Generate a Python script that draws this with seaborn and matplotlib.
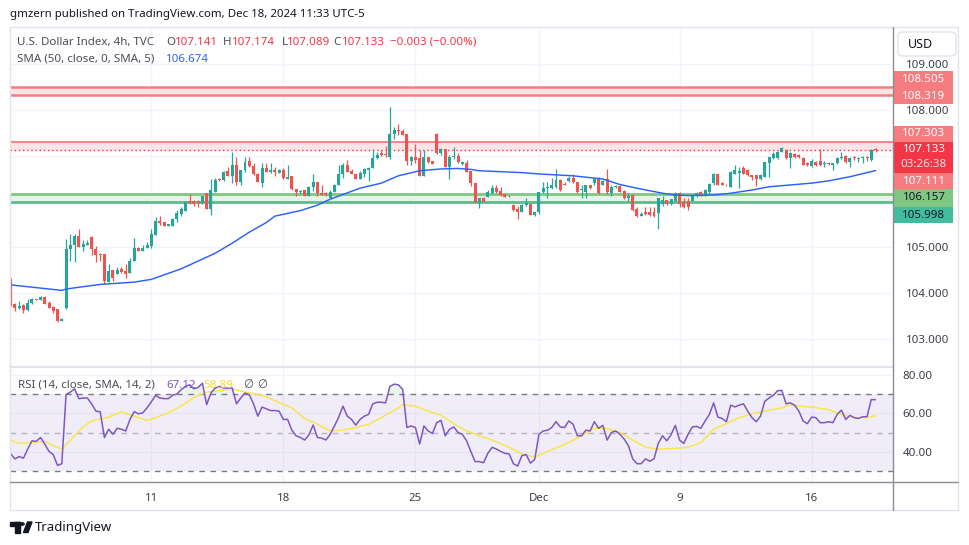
import matplotlib
matplotlib.use("Agg")
import matplotlib.pyplot as plt
from matplotlib.lines import Line2D
from matplotlib.patches import Rectangle, FancyBboxPatch, Circle, Polygon
import numpy as np
import pandas as pd
import seaborn as sns

# ---- data (DXY, 4h bars, Nov 5 -> Dec 18 2024) ----
opens = [104.31, 103.76, 103.67, 103.74, 103.64, 103.78, 103.87, 103.86, 103.92, 103.78,
         103.70, 103.65, 103.40, 103.67, 104.96, 105.05, 105.25, 105.01, 105.06, 105.23,
         104.96, 104.85, 104.85, 104.25, 104.50, 104.42, 104.52, 104.49, 104.43, 104.70,
         104.99, 104.92, 104.98, 105.02, 105.27, 105.58, 105.55, 105.47, 105.47, 105.62,
         105.73, 105.80, 106.01, 106.01, 106.01, 105.96, 106.18, 105.84, 106.21, 106.50,
         106.47, 106.67, 106.56, 106.79, 106.43, 106.69, 106.89, 106.78, 106.61, 106.41,
         106.74, 106.65, 106.69, 106.63, 106.69, 106.50, 106.56, 106.27, 106.20, 106.25,
         106.13, 106.31, 106.43, 106.19, 106.19, 106.08, 106.21, 106.35, 106.60, 106.80,
         106.67, 106.59, 106.49, 106.61, 106.69, 106.74, 106.94, 107.05, 107.03, 106.98,
         107.47, 107.56, 107.54, 107.47, 106.88, 106.98, 106.94, 106.56, 106.96, 106.89,
         107.47, 107.05, 107.14, 106.76, 106.96, 106.99, 106.82, 106.85, 106.66, 106.40,
         105.96, 106.08, 106.10, 106.18, 106.30, 106.23, 106.16, 106.11, 105.92, 105.83,
         105.78, 105.92, 105.95, 105.71, 105.76, 106.20, 106.29, 106.29, 106.32, 106.47,
         106.39, 106.45, 106.52, 106.42, 106.24, 106.20, 106.36, 106.40, 106.51, 106.37,
         106.49, 106.19, 106.31, 106.34, 106.23, 106.07, 106.14, 105.84, 105.69, 105.76,
         105.76, 105.76, 105.74, 105.94, 106.03, 105.94, 106.01, 106.18, 105.99, 106.01,
         106.01, 106.13, 106.20, 106.14, 106.21, 106.40, 106.59, 106.41, 106.37, 106.32,
         106.61, 106.62, 106.72, 106.69, 106.58, 106.58, 106.48, 106.54, 106.85, 106.94,
         106.94, 107.09, 107.12, 106.94, 107.04, 107.01, 106.94, 106.83, 106.78, 106.87,
         106.88, 106.82, 106.85, 106.80, 106.83, 106.94, 106.99, 106.87, 106.98, 106.92,
         106.94, 106.98, 106.91, 107.141]
highs = [104.33, 103.78, 103.83, 103.76, 103.87, 103.90, 103.875, 103.94, 103.94, 103.83,
         103.72, 103.66, 103.45, 105.18, 105.29, 105.28, 105.41, 105.16, 105.16, 105.25,
         105.03, 104.88, 104.85, 104.63, 104.50, 104.56, 104.56, 104.64, 104.77, 105.21,
         105.01, 105.06, 105.12, 105.40, 105.67, 105.68, 105.56, 105.51, 105.64, 105.81,
         105.87, 106.01, 106.17, 106.03, 106.03, 106.12, 106.19, 106.50, 106.51, 106.51,
         106.67, 106.76, 107.07, 106.96, 106.69, 106.98, 106.98, 106.83, 106.63, 106.83,
         106.83, 106.83, 106.76, 106.70, 106.72, 106.80, 106.56, 106.27, 106.25, 106.25,
         106.34, 106.61, 106.43, 106.37, 106.20, 106.24, 106.38, 106.80, 106.83, 106.91,
         106.70, 106.60, 106.67, 106.72, 106.76, 107.14, 107.09, 107.12, 107.20, 108.07,
         107.63, 107.69, 107.58, 107.47, 107.00, 107.25, 107.12, 107.12, 106.98, 106.89,
         107.49, 107.16, 107.14, 107.01, 107.18, 107.05, 106.89, 106.90, 106.67, 106.41,
         106.08, 106.10, 106.25, 106.36, 106.36, 106.31, 106.17, 106.15, 105.94, 105.90,
         105.94, 106.07, 105.96, 105.78, 106.20, 106.42, 106.43, 106.51, 106.71, 106.49,
         106.42, 106.56, 106.59, 106.43, 106.37, 106.37, 106.36, 106.52, 106.54, 106.47,
         106.71, 106.37, 106.35, 106.36, 106.24, 106.18, 106.16, 105.87, 105.78, 105.87,
         105.87, 105.89, 106.08, 106.13, 106.03, 106.06, 106.20, 106.20, 106.07, 106.07,
         106.14, 106.20, 106.22, 106.27, 106.40, 106.63, 106.61, 106.43, 106.38, 106.67,
         106.80, 106.76, 106.77, 106.70, 106.58, 106.58, 106.60, 106.87, 106.98, 107.07,
         107.11, 107.18, 107.15, 107.07, 107.05, 107.03, 106.96, 106.86, 106.92, 106.88,
         107.14, 106.89, 106.87, 106.85, 106.98, 107.09, 107.01, 106.96, 106.99, 106.96,
         106.99, 106.99, 107.14, 107.174]
lows = [103.72, 103.62, 103.65, 103.57, 103.60, 103.77, 103.85, 103.85, 103.76, 103.68,
        103.56, 103.36, 103.39, 103.66, 104.70, 104.69, 105.00, 104.91, 105.05, 104.83,
        104.69, 104.70, 104.19, 104.24, 104.26, 104.42, 104.45, 104.32, 104.43, 104.70,
        104.91, 104.92, 104.98, 104.99, 105.27, 105.49, 105.46, 105.46, 105.46, 105.56,
        105.69, 105.79, 105.95, 105.90, 105.89, 105.95, 105.83, 105.70, 106.20, 106.45,
        106.45, 106.56, 106.40, 106.36, 106.36, 106.65, 106.76, 106.58, 106.42, 106.32,
        106.64, 106.62, 106.55, 106.62, 106.49, 106.50, 106.25, 106.12, 106.17, 106.11,
        106.12, 106.22, 106.12, 106.14, 106.12, 106.07, 106.20, 106.35, 106.51, 106.64,
        106.60, 106.48, 106.49, 106.53, 106.45, 106.72, 106.92, 107.00, 106.98, 106.92,
        107.36, 107.45, 107.45, 106.80, 106.80, 106.83, 106.56, 106.56, 106.83, 106.81,
        107.04, 107.01, 106.75, 106.48, 106.92, 106.85, 106.80, 106.64, 106.34, 105.96,
        105.85, 105.98, 106.09, 106.16, 106.18, 106.12, 106.09, 106.10, 105.79, 105.61,
        105.76, 105.91, 105.71, 105.68, 105.73, 106.18, 106.08, 106.27, 106.29, 106.23,
        106.36, 106.43, 106.40, 106.18, 106.08, 106.08, 106.27, 106.37, 106.16, 106.36,
        106.16, 106.11, 106.30, 106.20, 106.05, 106.01, 105.79, 105.67, 105.68, 105.71,
        105.68, 105.67, 105.40, 105.91, 105.93, 105.93, 106.00, 105.89, 105.85, 105.81,
        106.00, 106.10, 106.12, 106.12, 106.19, 106.36, 106.35, 106.35, 106.33, 106.31,
        106.60, 106.29, 106.60, 106.56, 106.47, 106.34, 106.46, 106.53, 106.54, 106.92,
        106.92, 107.07, 106.92, 106.72, 106.94, 106.94, 106.79, 106.78, 106.76, 106.78,
        106.78, 106.76, 106.80, 106.69, 106.82, 106.92, 106.85, 106.76, 106.91, 106.87,
        106.85, 106.89, 106.89, 107.089]
closes = [103.74, 103.67, 103.73, 103.64, 103.78, 103.87, 103.86, 103.91, 103.77, 103.68,
          103.61, 103.40, 103.44, 104.96, 105.05, 105.25, 105.01, 105.07, 105.10, 104.96,
          104.83, 104.83, 104.26, 104.49, 104.34, 104.50, 104.47, 104.41, 104.70, 104.99,
          104.92, 104.99, 105.05, 105.29, 105.58, 105.52, 105.47, 105.50, 105.62, 105.74,
          105.84, 105.98, 105.96, 105.94, 105.96, 106.12, 105.84, 106.24, 106.47, 106.46,
          106.64, 106.56, 106.79, 106.43, 106.69, 106.87, 106.78, 106.60, 106.43, 106.74,
          106.65, 106.69, 106.65, 106.69, 106.51, 106.54, 106.27, 106.20, 106.23, 106.12,
          106.32, 106.42, 106.18, 106.14, 106.14, 106.21, 106.36, 106.60, 106.80, 106.65,
          106.61, 106.49, 106.63, 106.70, 106.74, 106.94, 107.01, 107.01, 107.01, 107.47,
          107.56, 107.54, 107.45, 106.88, 106.96, 106.91, 106.56, 106.96, 106.87, 106.81,
          107.05, 107.14, 106.76, 106.98, 106.99, 106.87, 106.87, 106.65, 106.40, 105.99,
          106.08, 105.99, 106.20, 106.30, 106.21, 106.14, 106.10, 106.13, 105.81, 105.76,
          105.92, 105.96, 105.71, 105.78, 106.20, 106.30, 106.31, 106.35, 106.47, 106.25,
          106.37, 106.52, 106.42, 106.20, 106.27, 106.36, 106.29, 106.49, 106.18, 106.45,
          106.20, 106.32, 106.34, 106.21, 106.07, 106.13, 105.81, 105.69, 105.72, 105.73,
          105.71, 105.69, 106.08, 106.03, 105.94, 106.05, 106.18, 105.94, 105.89, 105.89,
          106.13, 106.18, 106.14, 106.25, 106.38, 106.61, 106.36, 106.37, 106.35, 106.65,
          106.69, 106.67, 106.61, 106.58, 106.54, 106.48, 106.58, 106.87, 106.96, 107.04,
          107.09, 107.16, 106.94, 107.05, 106.96, 106.98, 106.80, 106.80, 106.89, 106.80,
          106.79, 106.85, 106.82, 106.83, 106.94, 106.98, 106.87, 106.94, 106.94, 106.94,
          106.98, 106.94, 107.12, 107.133]

# SMA(50) sampled along the bars
sma_bar = [0, 12, 13, 21, 29, 33, 40, 48, 52, 56, 60, 62, 68, 72, 75, 82, 87, 91, 96, 101,
           105, 108, 110, 115, 120, 124, 132, 139, 143, 148, 153, 156, 159, 165, 169, 174,
           178, 183, 188, 192, 197, 203]
sma_val = [104.18, 104.06, 104.09, 104.19, 104.24, 104.30, 104.53, 104.87, 105.09, 105.33,
           105.54, 105.68, 105.80, 105.92, 106.05, 106.29, 106.40, 106.56, 106.67, 106.71,
           106.72, 106.70, 106.67, 106.65, 106.63, 106.60, 106.56, 106.49, 106.37, 106.27,
           106.18, 106.14, 106.13, 106.14, 106.18, 106.25, 106.32, 106.36, 106.40, 106.45,
           106.54, 106.674]

# RSI(14) per bar
rsi_val = [39.0, 36.4, 37.6, 36.8, 41.5, 45.8, 45.5, 47.5, 44.1, 40.3,
           38.6, 33.0, 33.9, 69.8, 71.1, 72.8, 67.7, 68.0, 68.0, 65.0,
           61.2, 60.9, 47.5, 51.8, 49.2, 52.3, 51.8, 50.9, 56.9, 60.9,
           59.8, 60.3, 62.9, 66.0, 69.4, 68.0, 67.7, 67.7, 69.4, 70.1,
           72.3, 74.0, 74.9, 72.8, 73.5, 75.7, 64.6, 70.6, 73.2, 74.0,
           73.2, 73.2, 73.2, 65.0, 68.0, 70.6, 69.7, 65.0, 58.6, 63.3,
           62.4, 61.5, 61.5, 61.2, 56.9, 56.9, 51.3, 48.4, 47.5, 46.2,
           48.9, 54.0, 47.5, 47.2, 46.2, 49.2, 53.5, 58.1, 63.8, 58.6,
           56.9, 53.9, 56.9, 58.6, 59.5, 65.0, 65.8, 65.8, 65.5, 74.0,
           75.2, 74.9, 72.5, 52.7, 53.5, 52.7, 44.1, 53.5, 50.9, 49.6,
           55.2, 56.4, 48.4, 51.8, 53.0, 50.1, 49.2, 45.8, 40.3, 35.0,
           35.0, 34.4, 39.3, 42.4, 41.5, 40.3, 39.3, 39.0, 33.9, 32.7,
           38.1, 38.6, 34.2, 36.1, 49.2, 50.9, 51.3, 52.7, 55.7, 53.0,
           52.7, 56.1, 54.4, 48.4, 48.4, 51.3, 50.9, 55.7, 52.3, 53.8,
           46.2, 50.1, 50.9, 49.2, 46.7, 43.3, 36.4, 33.9, 33.9, 36.4,
           35.2, 36.4, 44.4, 48.4, 45.8, 48.9, 53.8, 46.2, 44.4, 49.2,
           53.0, 53.3, 52.3, 56.1, 59.5, 65.5, 58.1, 57.4, 55.7, 64.3,
           63.4, 64.3, 65.0, 61.2, 57.8, 55.7, 58.6, 66.3, 68.0, 69.4,
           71.8, 72.0, 65.0, 65.5, 64.3, 61.2, 56.1, 54.7, 58.1, 57.8,
           55.2, 55.2, 55.7, 55.2, 59.5, 61.7, 56.9, 59.0, 57.8, 57.4,
           58.3, 58.3, 67.2, 67.12]

# SMA(14) of RSI, sampled
rsima_bar = [0, 2, 5, 8, 10, 12, 15, 17, 19, 23, 26, 29, 32, 34, 37, 40, 43, 46, 49, 52,
             55, 59, 62, 66, 69, 72, 75, 78, 81, 84, 87, 91, 92, 95, 98, 101, 104, 107, 110,
             113, 117, 120, 123, 126, 130, 134, 137, 140, 143, 146, 149, 152, 156, 159, 162,
             165, 168, 171, 174, 177, 181, 183, 185, 188, 192, 195, 198, 201, 203]
rsima_val = [46.2, 44.4, 44.9, 45.5, 43.3, 41.5, 48.4, 53.0, 56.1, 58.1, 60.9, 58.6, 56.4,
             57.8, 60.3, 63.8, 68.4, 71.1, 71.8, 72.8, 71.1, 69.4, 66.7, 62.9, 57.4, 54.4,
             50.9, 51.3, 52.7, 54.4, 57.8, 62.9, 64.6, 63.8, 61.2, 59.1, 54.7, 50.9, 48.4,
             46.2, 42.4, 39.0, 37.3, 40.3, 43.8, 48.4, 52.3, 52.1, 50.1, 46.2, 42.4, 41.5,
             41.9, 42.4, 44.9, 51.8, 54.7, 57.8, 59.8, 61.2, 62.9, 64.6, 63.8, 63.3, 62.0,
             59.5, 57.8, 57.8, 58.89]

tick_bars = [33, 64, 95, 124, 157, 188]
tick_labels = ["11", "18", "25", "Dec", "9", "16"]

red_zone_hi = (108.319, 108.505)
red_zone_lo = (107.111, 107.303)
green_zone = (105.998, 106.157)
last_price = 107.133

UP, DOWN = "#26a69a", "#ef5350"
GRID = "#f0f3fa"
TXT = "#131722"

W, H = 970, 545


def fx(px):
    return px / W


def fy(py):
    return 1 - py / H


sns.set_theme(style="white")
plt.rcParams["font.family"] = ["Noto Sans", "DejaVu Sans"]

fig = plt.figure(figsize=(W / 100, H / 100), dpi=100)
ax_p = fig.add_axes([fx(10), fy(366), fx(893) - fx(10), fy(28) - fy(366)])
ax_r = fig.add_axes([fx(10), fy(482), fx(893) - fx(10), fy(368) - fy(482)])

df = pd.DataFrame({"open": opens, "high": highs, "low": lows, "close": closes})
df["bar"] = np.arange(len(df))
df["col"] = np.where(df["close"] >= df["open"], UP, DOWN)
body_lo = df[["open", "close"]].min(axis=1)
body_h = (df["close"] - df["open"]).abs().clip(lower=0.008)

# ---- price pane ----
for lo, hi in [red_zone_hi, red_zone_lo]:
    ax_p.axhspan(lo, hi, color="#fde4e6", lw=0, zorder=1)
ax_p.axhline(red_zone_hi[1], color="#f77c80", lw=1.8, zorder=2)
ax_p.axhline(red_zone_hi[0], color="#f77c80", lw=1.8, zorder=2)
ax_p.axhline(red_zone_lo[1], color="#f77c80", lw=1.3, zorder=2)
ax_p.axhspan(*green_zone, color="#e5f4e6", lw=0, zorder=1)
ax_p.axhline(green_zone[1], color="#81c784", lw=2.0, zorder=2)
ax_p.axhline(green_zone[0], color="#5dbb8c", lw=2.0, zorder=2)
ax_p.axhline(last_price, color="#f23645", lw=1.0, ls=(0, (1, 2)), zorder=2)

ax_p.vlines(df["bar"], df["low"], df["high"], colors=df["col"], lw=0.9, zorder=3)
ax_p.bar(df["bar"], body_h, bottom=body_lo, width=0.7, color=df["col"], lw=0, zorder=4)

sma_df = pd.DataFrame({"bar": sma_bar, "sma": sma_val})
sns.lineplot(data=sma_df, x="bar", y="sma", ax=ax_p, color="#2962ff", lw=1.05, zorder=5)

ax_p.set_xlim(-0.16, 207.1)
ax_p.set_ylim(102.41, 109.785)
ax_p.set_xticks(tick_bars)
ax_p.set_yticks(range(103, 110))
ax_p.set_yticklabels([f"{v:.3f}" if v not in (106, 107) else "" for v in range(103, 110)])
ax_p.yaxis.tick_right()
ax_p.tick_params(axis="y", length=0, pad=9, labelsize=8.3, labelcolor="#3b3e48")
ax_p.tick_params(axis="x", length=0, labelbottom=False)
ax_p.grid(True, color=GRID, lw=1, zorder=0)
ax_p.set_axisbelow(True)
ax_p.set_xlabel("")
ax_p.set_ylabel("")
for s in ax_p.spines.values():
    s.set_visible(False)

# ---- RSI pane ----
ax_r.axhspan(30, 70, color="#7e57c2", alpha=0.1, lw=0, zorder=1)
ax_r.axhline(70, color="#787b86", lw=1, ls=(0, (4, 4)), zorder=2)
ax_r.axhline(30, color="#787b86", lw=1, ls=(0, (4, 4)), zorder=2)
ax_r.axhline(50, color="#787b86", lw=1, ls=(0, (4, 4)), alpha=0.5, zorder=2)
rsi_df = pd.DataFrame({"bar": np.arange(len(rsi_val)), "rsi": rsi_val})
ax_r.fill_between(rsi_df["bar"], 70, rsi_df["rsi"], where=rsi_df["rsi"] > 70,
                  interpolate=True, color="#4caf50", alpha=0.12, lw=0, zorder=2)
sns.lineplot(data=pd.DataFrame({"bar": rsima_bar, "ma": rsima_val}), x="bar", y="ma",
             ax=ax_r, color="#f9e54e", lw=1.1, zorder=3)
sns.lineplot(data=rsi_df, x="bar", y="rsi", ax=ax_r, color="#7e57c2", lw=1.1, zorder=4)
ax_r.set_xlim(-0.16, 207.1)
ax_r.set_ylim(24.4, 83.6)
ax_r.set_yticks([40, 60, 80])
ax_r.set_yticklabels(["40.00", "60.00", "80.00"])
ax_r.yaxis.tick_right()
ax_r.tick_params(axis="y", length=0, pad=7, labelsize=8.3, labelcolor="#3b3e48")
ax_r.set_xticks(tick_bars)
ax_r.set_xticklabels(tick_labels)
ax_r.tick_params(axis="x", length=0, pad=8, labelsize=8.3, labelcolor="#3b3e48")
for lab in ax_r.get_xticklabels():
    if lab.get_text() == "Dec":
        lab.set_fontweight("bold")
ax_r.grid(True, color=GRID, lw=1, zorder=0)
ax_r.set_axisbelow(True)
ax_r.set_xlabel("")
ax_r.set_ylabel("")
for s in ax_r.spines.values():
    s.set_visible(False)


# ---- frame lines ----
def line(x0, y0, x1, y1, color, lw=1.0):
    fig.add_artist(Line2D([fx(x0), fx(x1)], [fy(y0), fy(y1)], color=color, lw=lw,
                          transform=fig.transFigure))


line(10, 27, 958, 27, "#e0e3eb")
line(10, 27, 10, 510, "#e0e3eb")
line(958, 27, 958, 510, "#e0e3eb")
line(10, 510, 958, 510, "#e0e3eb")
line(10, 367, 893, 367, "#e0e3eb", 1.5)
line(893, 27, 893, 510, "#8a8d96")
line(10, 482, 958, 482, "#8a8d96")


# ---- price labels on the right scale ----
def box(x0, y0, x1, y1, color):
    fig.add_artist(Rectangle((fx(x0), fy(y1)), fx(x1) - fx(x0), fy(y0) - fy(y1),
                             transform=fig.transFigure, color=color, lw=0))


def label(x, y, s, color, size=8.3, ha="center", **kw):
    fig.text(fx(x), fy(y), s, color=color, fontsize=size, ha=ha, va="center", **kw)


box(894, 71, 953, 104, "#f77c80")
label(924, 79, "108.505", "white")
label(924, 96.5, "108.319", "white")
box(894, 126, 953, 142, "#f77c80")
label(924, 133.5, "107.303", "white")
box(894, 142, 953, 173, "#f23645")
label(924, 150, "107.133", "white")
label(924, 164.5, "03:26:38", "#ffe0e2")
box(894, 173, 953, 188.5, "#f77c80")
label(924, 181, "107.111", "white")
box(894, 189.5, 953, 206.7, "#81c784")
label(924, 198, "106.157", TXT)
box(894, 206.7, 953, 223.3, "#43bb9e")
label(924, 215, "105.998", TXT)

fig.add_artist(FancyBboxPatch((fx(898), fy(56)), fx(956) - fx(898), fy(32) - fy(56),
                              boxstyle="round,pad=0,rounding_size=0.006",
                              transform=fig.transFigure, fc="white", ec="#e0e3eb", lw=1))
label(908, 44, "USD", TXT, size=9, ha="left")

# ---- legends ----
label(10, 14, "gmzern published on TradingView.com, Dec 18, 2024 11:33 UTC-5", TXT, size=8.25, ha="left")
GREY = "#4a4e5a"
RED = "#f23645"
label(17, 42.5, "U.S. Dollar Index, 4h, TVC", GREY, ha="left")
for x, s, c in [(166, "O", GREY), (175, "107.141", RED), (223, "H", GREY), (232, "107.174", RED),
                (282, "L", GREY), (287, "107.089", RED), (333, "C", GREY), (342, "107.133", RED),
                (390, "\u22120.003 (\u22120.00%)", RED)]:
    label(x, 42.5, s, c, ha="left")
label(17, 59, "SMA (50, close, 0, SMA, 5)", GREY, ha="left")
label(166, 59, "106.674", "#2962ff", ha="left")
label(18, 385, "RSI (14, close, SMA, 14, 2)", GREY, ha="left")
label(166, 385, "67.12", "#7e57c2", ha="left")
label(203, 385, "58.89", "#f5d63b", ha="left")
label(243, 385, "\u2205", GREY, ha="left")
label(257, 385, "\u2205", GREY, ha="left")

# ---- TradingView logo ----
for patch in [Rectangle((fx(10), fy(525.5)), fx(19.5) - fx(10), fy(522) - fy(525.5)),
              Rectangle((fx(15), fy(532.5)), fx(19.5) - fx(15), fy(522) - fy(532.5)),
              Polygon([(fx(23.5), fy(532.5)), (fx(27.5), fy(522)), (fx(32), fy(522)), (fx(28), fy(532.5))])]:
    patch.set_transform(fig.transFigure)
    patch.set_color(TXT)
    fig.add_artist(patch)
fig.add_artist(Circle((fx(22), fy(524)), 0.0022, transform=fig.transFigure, color=TXT))
label(35, 527.5, "TradingView", TXT, size=9.5, ha="left")

fig.savefig("out.png", dpi=100)
